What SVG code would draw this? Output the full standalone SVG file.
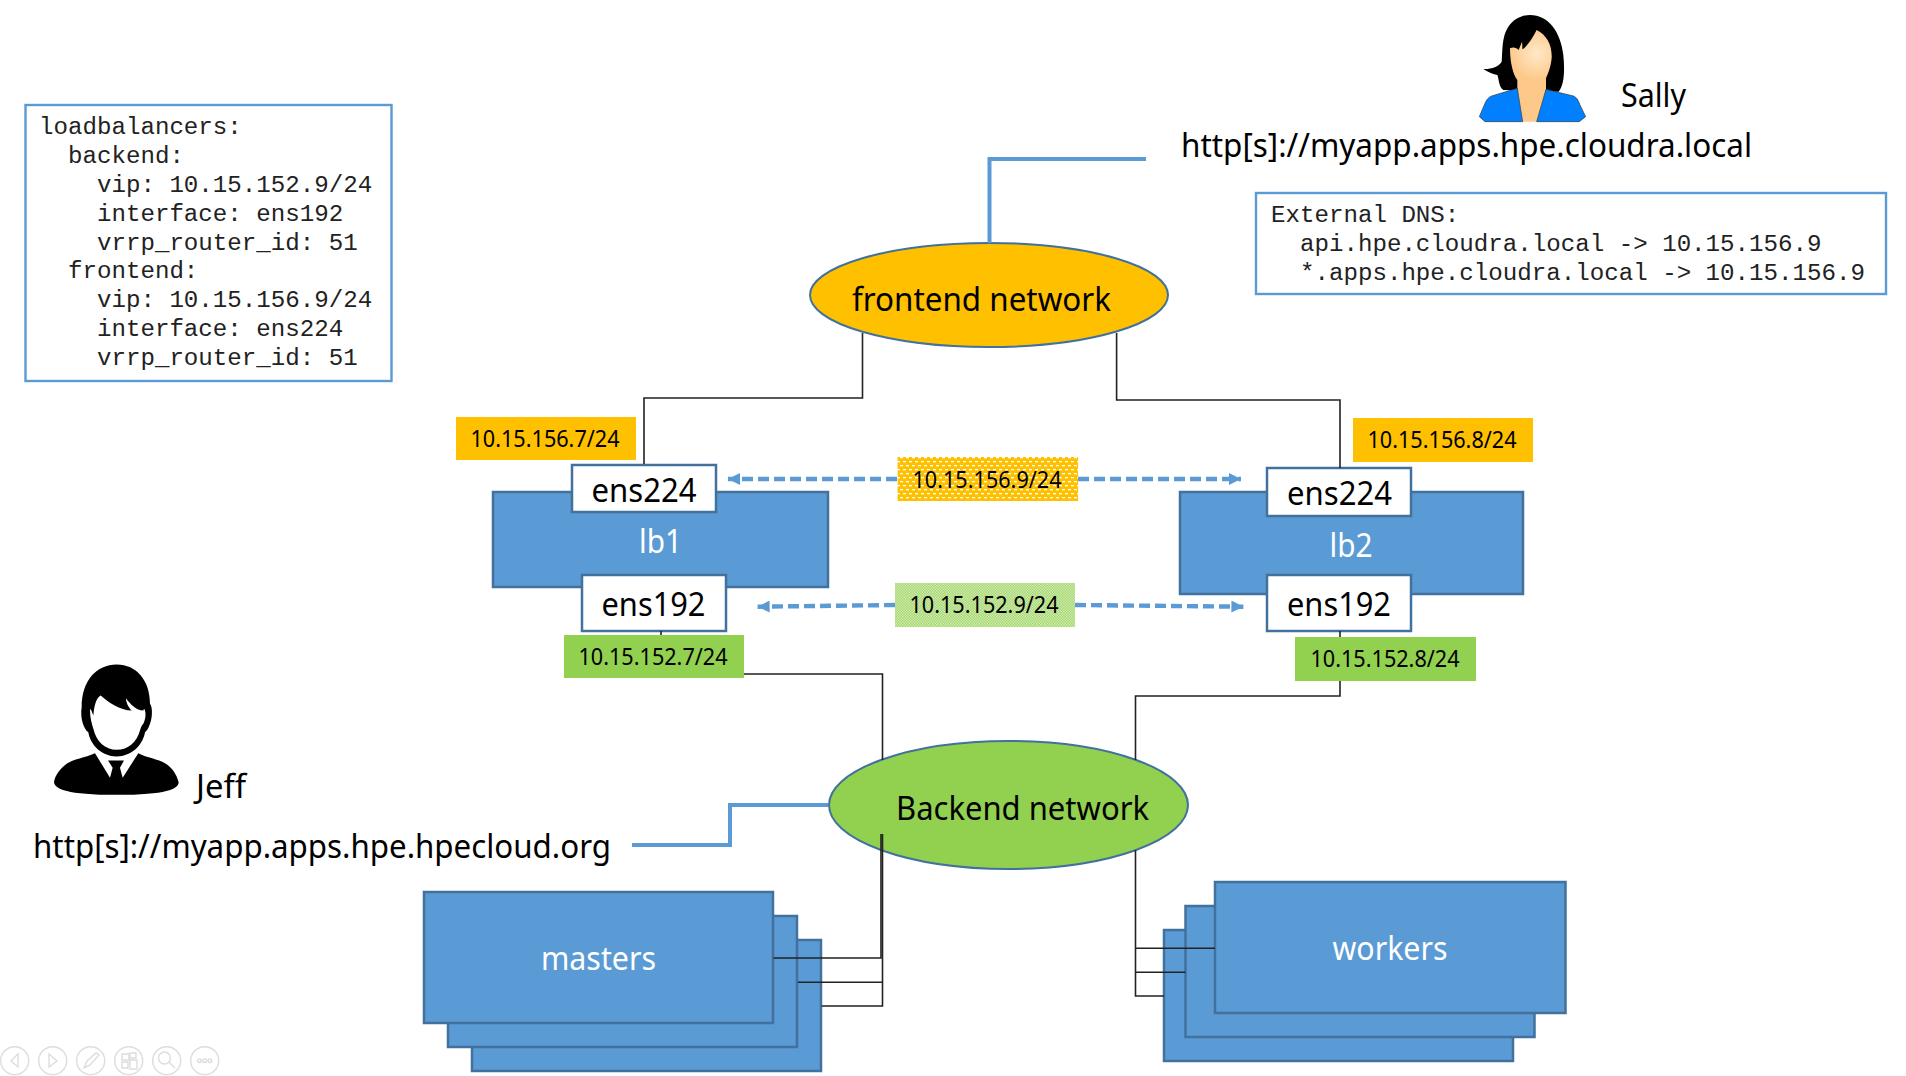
<svg xmlns="http://www.w3.org/2000/svg" width="1906" height="1076" viewBox="0 0 1906 1076">
<style>
.s{font-family:"Noto Sans","Open Sans",sans-serif;fill:#000}
.w{fill:#fff}
.m{font-family:"Liberation Mono",monospace;font-size:24.15px;fill:#222;white-space:pre}
.b{fill:#5B9BD5;stroke:#41719C;stroke-width:2.5}
.i{fill:#fff;stroke:#41719C;stroke-width:2.5}
.c{fill:none;stroke:#5B9BD5;stroke-width:2.4}
.e{stroke:#41719C;stroke-width:2}
.l{fill:none;stroke:#222;stroke-width:1.6}
.h{fill:none;stroke:#5B9BD5;stroke-width:4}
.d{fill:none;stroke:#5B9BD5;stroke-width:4.4;stroke-dasharray:11 5}
.t{fill:none;stroke:#ddd;stroke-width:1.4}
.ip{font-size:23px}
.if{font-size:33px}
</style>
<defs>
<marker id="ah" viewBox="0 0 12 12" refX="12" refY="6" markerWidth="12" markerHeight="12" markerUnits="userSpaceOnUse" orient="auto"><path d="M0,0L12,6L0,12Z" fill="#5B9BD5"/></marker>
<pattern id="po" width="6" height="8" patternUnits="userSpaceOnUse"><rect width="6" height="8" fill="#FFC000"/><rect x="0" y="1" width="3" height="1.3" fill="#fff"/><rect x="3" y="5" width="3" height="1.3" fill="#fff"/></pattern>
<pattern id="pg" width="2.6" height="2.6" patternUnits="userSpaceOnUse"><rect width="2.6" height="2.6" fill="#92D050"/><rect width="1.3" height="1.3" fill="#E4F3D0"/><rect x="1.3" y="1.3" width="1.3" height="1.3" fill="#E4F3D0"/></pattern>
<radialGradient id="skin" cx="230" cy="160" r="80" gradientUnits="userSpaceOnUse"><stop offset="0" stop-color="#FFE8C8"/><stop offset="1" stop-color="#FDC98A"/></radialGradient>
</defs>

<g id="lb-config"><rect x="25.5" y="105" width="366" height="276" class="c" fill="#fff"/>
<text class="m" x="39" y="134">loadbalancers:</text>
<text class="m" x="39" y="163">  backend:</text>
<text class="m" x="39" y="192">    vip: 10.15.152.9/24</text>
<text class="m" x="39" y="221">    interface: ens192</text>
<text class="m" x="39" y="250">    vrrp_router_id: 51</text>
<text class="m" x="39" y="278">  frontend:</text>
<text class="m" x="39" y="307">    vip: 10.15.156.9/24</text>
<text class="m" x="39" y="336">    interface: ens224</text>
<text class="m" x="39" y="365">    vrrp_router_id: 51</text></g>

<g id="dns-config"><rect x="1256" y="193" width="630" height="101" class="c"/>
<text class="m" x="1271" y="222">External DNS:</text>
<text class="m" x="1271" y="250.5">  api.hpe.cloudra.local -&gt; 10.15.156.9</text>
<text class="m" x="1271" y="279.5">  *.apps.hpe.cloudra.local -&gt; 10.15.156.9</text></g>

<g id="sally"><g transform="translate(1460,0) scale(.3333)">
<path fill="#000" d="M210,45C265,45 302,95 310,165C315,215 312,255 296,275L130,270C115,258 118,240 112,225C100,222 85,218 70,207C95,208 115,200 125,185C128,150 125,110 145,80C160,58 185,45 210,45Z"/>
<path fill="url(#skin)" d="M230,90C260,105 277,135 275,175C272,205 262,225 258,235L258,270L230,365L188,365L172,265L172,240C160,225 150,190 150,145C158,140 170,142 176,150L186,125C188,140 186,145 188,148C205,135 220,110 230,90Z"/>
<path fill="#0080FF" stroke="#333" stroke-width="2" d="M172,265L95,288C85,292 80,298 75,310L58,350L75,365L188,365Z"/>
<path fill="#0080FF" stroke="#333" stroke-width="2" d="M258,268L340,288C350,292 355,300 360,315L377,350L358,365L230,365Z"/>
</g><text class="s if" x="1621" y="107" textLength="65" lengthAdjust="spacingAndGlyphs">Sally</text></g>
<text id="url-sally" class="s if" x="1181" y="157" textLength="571" lengthAdjust="spacingAndGlyphs">http[s]://myapp.apps.hpe.cloudra.local</text>

<g id="jeff"><g transform="translate(40,660.5) scale(.3333)">
<path fill="#000" d="M230,12C290,12 330,60 330,130C338,140 338,170 330,190C325,205 320,212 315,215C310,245 285,285 230,288C175,285 150,245 145,215C130,205 120,170 125,140C125,60 170,12 230,12Z"/>
<path fill="#fff" d="M182,105C205,125 240,150 275,150C265,140 258,125 258,113C270,130 290,150 310,150L312,145C317,150 320,170 310,190C305,195 303,200 300,210C290,245 265,268 230,268C195,268 170,245 160,205C155,190 150,170 150,150L152,145L160,165C163,130 170,112 182,105Z"/>
<path fill="#000" d="M165,278C135,292 100,295 80,310C60,325 45,345 42,365C45,385 80,403 230,403C380,403 415,385 416,365C410,340 395,320 375,308C355,295 320,292 295,278L248,352L240,322L252,300L204,300L218,322L210,352Z"/>
</g><text class="s if" x="196" y="798" textLength="50" lengthAdjust="spacingAndGlyphs">Jeff</text></g>
<text id="url-jeff" class="s if" x="33" y="858" textLength="578" lengthAdjust="spacingAndGlyphs">http[s]://myapp.apps.hpe.hpecloud.org</text>

<g id="frontend-network"><ellipse cx="989" cy="295" rx="179" ry="52" fill="#FFC000" class="e"/>
<text class="s if" x="852" y="311" textLength="259" lengthAdjust="spacingAndGlyphs">frontend network</text></g>

<g id="backend-network"><ellipse cx="1008.5" cy="805" rx="179.5" ry="64" fill="#92D050" class="e"/>
<text class="s if" x="896" y="820" textLength="253" lengthAdjust="spacingAndGlyphs">Backend network</text></g>

<g id="lb1"><rect x="493" y="492" width="335" height="95" class="b"/>
<text class="s if w" x="639" y="553" textLength="43" lengthAdjust="spacingAndGlyphs">lb1</text></g>
<g id="lb2"><rect x="1180" y="492" width="343" height="102" class="b"/>
<text class="s if w" x="1329.5" y="557" textLength="43" lengthAdjust="spacingAndGlyphs">lb2</text></g>

<g id="lb1-ens224"><rect x="572" y="465" width="144" height="47" class="i"/><text class="s if" x="591.5" y="502" textLength="105" lengthAdjust="spacingAndGlyphs">ens224</text></g>
<g id="lb1-ens192"><rect x="582" y="575" width="144" height="56" class="i"/><text class="s if" x="601.5" y="616" textLength="104" lengthAdjust="spacingAndGlyphs">ens192</text></g>
<g id="lb2-ens224"><rect x="1267" y="468" width="144" height="48" class="i"/><text class="s if" x="1287" y="504.5" textLength="105" lengthAdjust="spacingAndGlyphs">ens224</text></g>
<g id="lb2-ens192"><rect x="1267" y="575" width="144" height="56" class="i"/><text class="s if" x="1287" y="616" textLength="104" lengthAdjust="spacingAndGlyphs">ens192</text></g>

<g id="ip-156-7"><rect x="456" y="417" width="180" height="43" fill="#FFC000"/><text class="s ip" x="470.5" y="447" textLength="149" lengthAdjust="spacingAndGlyphs">10.15.156.7/24</text></g>
<g id="ip-156-8"><rect x="1353" y="418" width="180" height="44" fill="#FFC000"/><text class="s ip" x="1367.5" y="448" textLength="149" lengthAdjust="spacingAndGlyphs">10.15.156.8/24</text></g>
<g id="ip-152-7"><rect x="564" y="635" width="180" height="43" fill="#92D050"/><text class="s ip" x="578.5" y="665" textLength="149" lengthAdjust="spacingAndGlyphs">10.15.152.7/24</text></g>
<g id="ip-152-8"><rect x="1295" y="637" width="181" height="44" fill="#92D050"/><text class="s ip" x="1310.5" y="667" textLength="149" lengthAdjust="spacingAndGlyphs">10.15.152.8/24</text></g>
<g id="vip-156-9"><rect x="897.6" y="457" width="180.5" height="44" fill="url(#po)"/><text class="s ip" x="912.5" y="488" textLength="149" lengthAdjust="spacingAndGlyphs">10.15.156.9/24</text></g>
<g id="vip-152-9"><rect x="895" y="583" width="180" height="44" fill="url(#pg)"/><text class="s ip" x="909.5" y="613" textLength="149" lengthAdjust="spacingAndGlyphs">10.15.152.9/24</text></g>

<g id="masters"><rect x="472" y="940" width="349" height="131" class="b"/><rect x="448" y="916" width="349" height="131" class="b"/><rect x="424" y="892" width="349" height="131" class="b"/>
<text class="s if w" x="541" y="970" textLength="115" lengthAdjust="spacingAndGlyphs">masters</text></g>
<g id="workers"><rect x="1164" y="930" width="349" height="131" class="b"/><rect x="1185.5" y="906" width="349" height="131" class="b"/><rect x="1215" y="882" width="350.5" height="131" class="b"/>
<text class="s if w" x="1332.5" y="960" textLength="115" lengthAdjust="spacingAndGlyphs">workers</text></g>

<g id="connectors">
<path class="h" d="M1146,159H989.5V243"/>
<path class="h" d="M632,845H730V805H828"/>
<path class="l" d="M862.5,333V398H644V464"/>
<path class="l" d="M1116.6,333V400H1340V468"/>
<path class="l" d="M661,631V635"/>
<path class="l" d="M744,674H882.5V760"/>
<path class="l" d="M1340,631V637"/>
<path class="l" d="M1340,681V696H1135.5V760"/>
<path class="l" d="M1135.5,850V996H1164"/>
<path class="l" d="M1135.5,948.3H1215"/>
<path class="l" d="M1135.5,972.3H1185.5"/>
<path class="l" d="M881,834V958H773.5"/>
<path class="l" d="M882.5,834V1006H821.7"/>
<path class="l" d="M882.5,982.3H798"/>
<path class="d" d="M897,479H728" marker-end="url(#ah)"/>
<path class="d" d="M1078,479H1241" marker-end="url(#ah)"/>
<path class="d" d="M895,605L757.6,606.7" marker-end="url(#ah)"/>
<path class="d" d="M1075,605L1243.4,606.7" marker-end="url(#ah)"/>
</g>

<g id="toolbar">
<circle class="t" cx="14.7" cy="1060.7" r="14"/><path class="t" d="M18,1054L11,1061L18,1067Z"/>
<circle class="t" cx="52.7" cy="1060.7" r="14"/><path class="t" d="M49,1054L57,1061L49,1067Z"/>
<circle class="t" cx="90.7" cy="1060.7" r="14"/><path class="t" d="M84,1068L87,1061L96,1053L99,1055L90,1065Z"/>
<circle class="t" cx="128.7" cy="1060.7" r="14"/><path class="t" d="M122,1054h7v6h-7zM130,1053h6v5h-6zM122,1062h6v6h-6zM130,1060h7v9h-7z"/>
<circle class="t" cx="166.7" cy="1060.7" r="14"/><circle class="t" cx="164.5" cy="1058" r="6"/><path class="t" d="M169,1062L175,1068" stroke-width="2.4"/>
<circle class="t" cx="204.7" cy="1060.7" r="14"/><circle class="t" cx="199.5" cy="1060.7" r="1.8"/><circle class="t" cx="204.7" cy="1060.7" r="1.8"/><circle class="t" cx="209.9" cy="1060.7" r="1.8"/>
</g>
</svg>
